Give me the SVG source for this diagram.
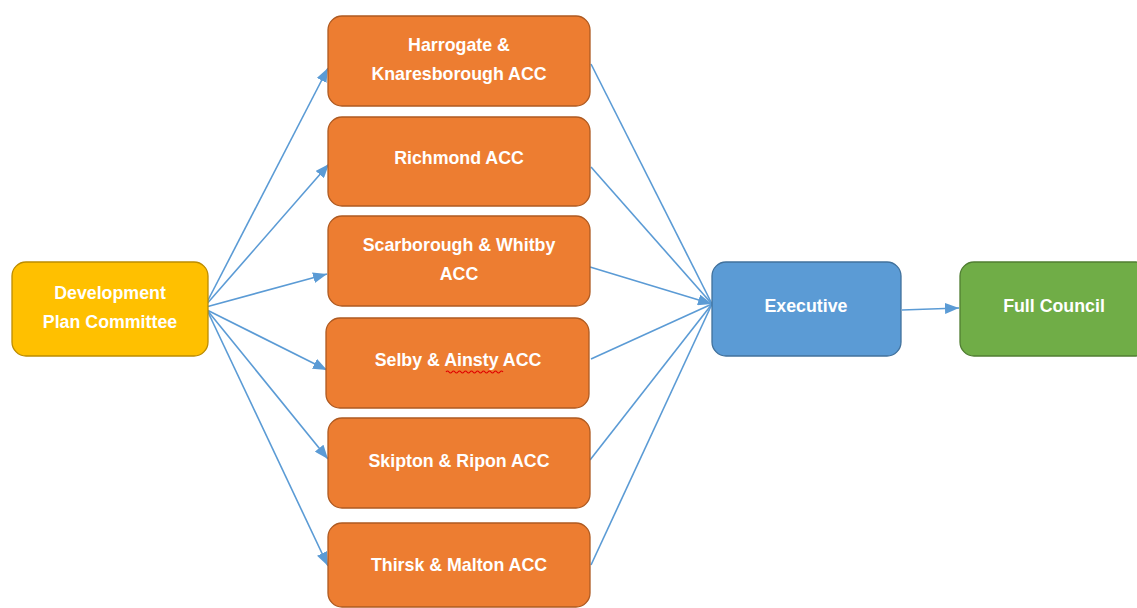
<svg xmlns="http://www.w3.org/2000/svg" width="1137" height="608" viewBox="0 0 1137 608">
<style>
.box{stroke-width:1.3}
.acc{fill:#ED7D31;stroke:#AE5A21}
.dpc{fill:#FFC000;stroke:#BC8C00}
.exe{fill:#5B9BD5;stroke:#41719C}
.fc{fill:#70AD47;stroke:#507E32}
text{font-family:"Liberation Sans","Open Sans",Arial,sans-serif;font-weight:bold;font-size:17.8px;fill:#FFFFFF;text-anchor:middle}
.conn line{stroke:#5B9BD5;stroke-width:1.6;fill:none}
</style>
<defs>
<marker id="ah" viewBox="0 0 14 11" refX="14" refY="5.5" markerWidth="14" markerHeight="11" markerUnits="userSpaceOnUse" orient="auto">
<path d="M0,0 L14,5.5 L0,11 Z" fill="#5B9BD5"/>
</marker>
</defs>
<rect width="1137" height="608" fill="#FFFFFF"/>
<g class="conn" id="connectors">
<line x1="205" y1="306" x2="328" y2="68" marker-end="url(#ah)"/>
<line x1="205" y1="306" x2="329" y2="164" marker-end="url(#ah)"/>
<line x1="206" y1="307" x2="327" y2="274" marker-end="url(#ah)"/>
<line x1="207" y1="310" x2="327" y2="370" marker-end="url(#ah)"/>
<line x1="207" y1="310" x2="328" y2="459" marker-end="url(#ah)"/>
<line x1="207" y1="310" x2="328" y2="566" marker-end="url(#ah)"/>
<line x1="591" y1="64" x2="712" y2="304"/>
<line x1="591" y1="167" x2="712" y2="304"/>
<line x1="590" y1="267" x2="712" y2="304" marker-end="url(#ah)"/>
<line x1="591" y1="359" x2="712" y2="304"/>
<line x1="590" y1="460" x2="712" y2="304"/>
<line x1="591" y1="565" x2="712" y2="304"/>
<line x1="902" y1="310" x2="959" y2="308" marker-end="url(#ah)"/>
</g>
<g id="dpc">
<rect class="box dpc" x="12" y="262" width="196" height="94" rx="14"/>
<text x="110" y="299">Development</text>
<text x="110" y="328">Plan Committee</text>
</g>
<g id="harrogate">
<rect class="box acc" x="328" y="16" width="262" height="90" rx="14"/>
<text x="459" y="51">Harrogate &amp;</text>
<text x="459" y="80">Knaresborough ACC</text>
</g>
<g id="richmond">
<rect class="box acc" x="328" y="117" width="262" height="89" rx="14"/>
<text x="459" y="164">Richmond ACC</text>
</g>
<g id="scarborough">
<rect class="box acc" x="328" y="216" width="262" height="90" rx="14"/>
<text x="459" y="251">Scarborough &amp; Whitby</text>
<text x="459" y="280">ACC</text>
</g>
<g id="selby">
<rect class="box acc" x="326" y="318" width="263" height="90" rx="14"/>
<text x="458" y="366">Selby &amp; Ainsty ACC</text>
<path d="M446,372 q1.5,-2 3,0 t3,0 t3,0 t3,0 t3,0 t3,0 t3,0 t3,0 t3,0 t3,0 t3,0 t3,0 t3,0 t3,0 t3,0 t3,0 t3,0 t3,0 t3,0" fill="none" stroke="#E00000" stroke-width="1.2"/>
</g>
<g id="skipton">
<rect class="box acc" x="328" y="418" width="262" height="90" rx="14"/>
<text x="459" y="467">Skipton &amp; Ripon ACC</text>
</g>
<g id="thirsk">
<rect class="box acc" x="328" y="523" width="262" height="84" rx="14"/>
<text x="459" y="571">Thirsk &amp; Malton ACC</text>
</g>
<g id="executive">
<rect class="box exe" x="712" y="262" width="189" height="94" rx="14"/>
<text x="806" y="312">Executive</text>
</g>
<g id="fullcouncil">
<rect class="box fc" x="960" y="262" width="190" height="94" rx="14"/>
<text x="1054" y="312">Full Council</text>
</g>
</svg>
